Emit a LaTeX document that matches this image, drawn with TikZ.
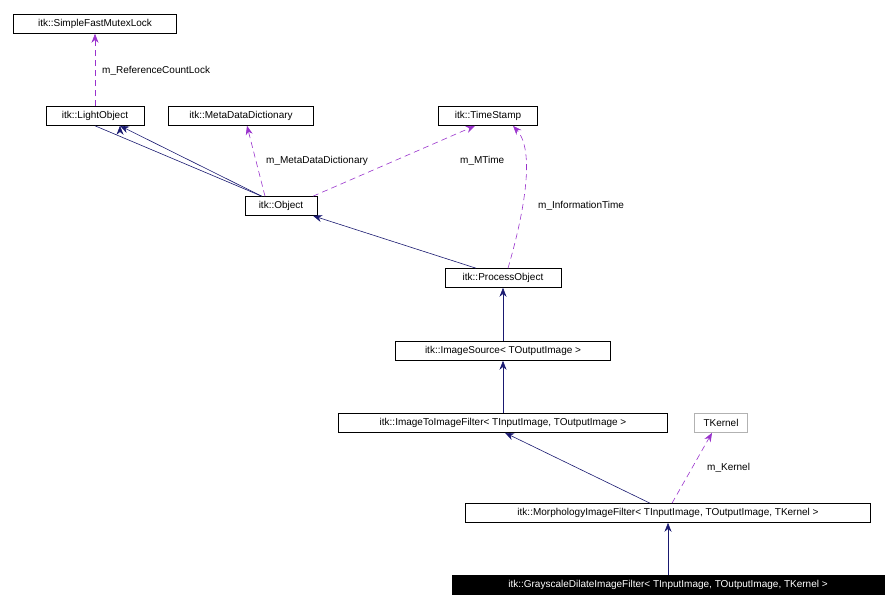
\documentclass[tikz,border=0pt]{standalone}
\usepackage{fontspec}
\setmainfont{Liberation Sans}
\usetikzlibrary{arrows.meta}
\definecolor{navy}{RGB}{25,25,112}
\definecolor{usecol}{RGB}{153,50,204}
\tikzset{
  cls/.style={draw=black, line width=0.6pt, inner sep=0pt, minimum height=19pt, font=\fontsize{10}{12}\selectfont},
  inh/.style={draw=navy, line width=0.6pt, -{Stealth[length=9pt,width=7pt]}},
  use/.style={draw=usecol, line width=0.6pt, dash pattern=on 6pt off 4pt, -{Stealth[length=9pt,width=7pt]}},
  lbl/.style={font=\fontsize{10}{12}\selectfont, anchor=west, inner sep=0pt}
}
\begin{document}
\begin{tikzpicture}[x=1pt,y=-1pt]
\useasboundingbox (0,0) rectangle (896,609);
% Nodos
\node [cls, minimum width=163pt] (mutex) at (95,24) {itk::SimpleFastMutexLock};
\node [cls, minimum width=98pt] (light) at (95,116) {itk::LightObject};
\node [cls, minimum width=145pt] (meta) at (241,116) {itk::MetaDataDictionary};
\node [cls, minimum width=99pt] (stamp) at (488,116) {itk::TimeStamp};
\node [cls, minimum width=72pt] (obj) at (281,206) {itk::Object};
\node [cls, minimum width=116pt] (proc) at (503,278) {itk::ProcessObject};
\node [cls, minimum width=215pt] (src) at (503,351) {itk::ImageSource< TOutputImage >};
\node [cls, minimum width=329pt] (i2i) at (503,423) {itk::ImageToImageFilter< TInputImage, TOutputImage >};
\node [cls, draw=gray!60, minimum width=53pt] (kern) at (721,423) {TKernel};
\node [cls, minimum width=405pt] (morph) at (668,513) {itk::MorphologyImageFilter< TInputImage, TOutputImage, TKernel >};
\node [cls, fill=black, text=white, minimum width=432pt] (gray) at (668,585) {itk::GrayscaleDilateImageFilter< TInputImage, TOutputImage, TKernel >};
% Ejes
\path [use] (light) -- (mutex);
\node [lbl] at (102,71) {m\_ReferenceCountLock};
\path [inh] (obj.north west) ++(17,0) -- (light.south) ++(25,0);
\path [inh] ([xshift=17pt]obj.north west) -- ([xshift=25pt]light.south);
\path [use] ([xshift=-16pt]obj.north) -- ([xshift=6pt]meta.south);
\node [lbl] at (266,161) {m\_MetaDataDictionary};
\path [use] ([xshift=32pt]obj.north) -- ([xshift=-13pt]stamp.south);
\node [lbl] at (460,161) {m\_MTime};
\path [inh] ([xshift=-27pt]proc.north) -- ([xshift=32pt]obj.south);
\path [use] ([xshift=5pt]proc.north) .. controls (525,210) and (535,150) .. ([xshift=25pt]stamp.south);
\node [lbl] at (538,206) {m\_InformationTime};
\path [inh] (src) -- (proc);
\path [inh] (i2i) -- (src);
\path [inh] ([xshift=-18pt]morph.north) -- ([xshift=2pt]i2i.south);
\path [use] ([xshift=4pt]morph.north) -- ([xshift=-9pt]kern.south);
\node [lbl] at (707,468) {m\_Kernel};
\path [inh] (gray) -- (morph);
\end{tikzpicture}
\end{document}
